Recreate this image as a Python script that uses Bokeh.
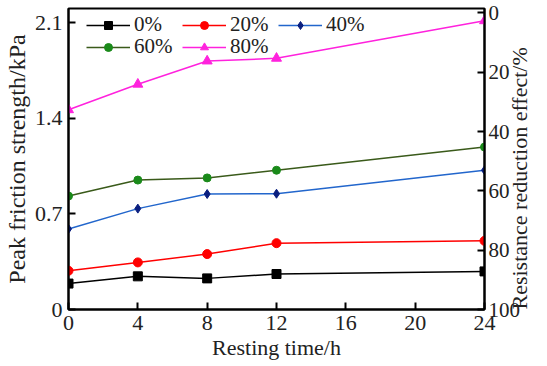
import math
from bokeh.plotting import figure
from bokeh.models import Range1d, LinearAxis, Legend, LegendItem, FixedTicker
from bokeh.embed import file_html
from bokeh.resources import INLINE

# Data
time_h = [0, 4, 8, 12, 24]
s0 = [0.19, 0.243, 0.228, 0.26, 0.279]
s20 = [0.284, 0.345, 0.406, 0.486, 0.503]
s40 = [0.59, 0.739, 0.846, 0.848, 1.02]
s60 = [0.831, 0.948, 0.964, 1.02, 1.19]
s80 = [1.463, 1.65, 1.82, 1.84, 2.115]
x_ticks = [0, 4, 8, 12, 16, 20, 24]
left_ticks = [0, 0.7, 1.4, 2.1]
right_ticks = [0, 20, 40, 60, 80, 100]

FONT = "Liberation Serif"
TXT = "#222222"

p = figure(width=547, height=366, output_backend="svg", toolbar_location=None,
           x_range=Range1d(0, 24), y_range=Range1d(0, 2.205),
           min_border_left=68, min_border_right=60, min_border_top=8, min_border_bottom=57)
p.extra_y_ranges = {"right": Range1d(start=100, end=-1.5)}
p.grid.visible = False
p.outline_line_color = "black"
p.outline_line_width = 2
p.background_fill_color = "white"
p.border_fill_color = "white"

r0 = p.line(time_h, s0, line_color="black", line_width=1.5)
m0 = p.scatter(time_h, s0, marker="square", size=9, color="black")
r20 = p.line(time_h, s20, line_color="#ff0000", line_width=1.5)
m20 = p.scatter(time_h, s20, marker="circle", size=9, color="#ff0000")
r40 = p.line(time_h, s40, line_color="#2266cc", line_width=1.5)
m40 = p.scatter(time_h, s40, marker="diamond", size=9, color="#0a1f80")
r60 = p.line(time_h, s60, line_color="#3a5a1a", line_width=1.5)
m60 = p.scatter(time_h, s60, marker="circle", size=8, color="#1a8a1a")
r80 = p.line(time_h, s80, line_color="#ff22dd", line_width=1.5)
m80 = p.scatter(time_h, s80, marker="triangle", size=10, color="#ff22dd")

def style_axis(ax, label_size="22px"):
    ax.axis_line_width = 2
    ax.axis_line_color = "black"
    ax.major_tick_in = 7
    ax.major_tick_out = 0
    ax.major_tick_line_width = 2
    ax.minor_tick_line_color = None
    ax.major_label_text_font = FONT
    ax.major_label_text_font_size = "22px"
    ax.major_label_text_color = TXT
    ax.axis_label_text_font = FONT
    ax.axis_label_text_font_size = label_size
    ax.axis_label_text_font_style = "normal"
    ax.axis_label_text_color = TXT
    ax.major_label_standoff = 6
    ax.axis_label_standoff = 2

xa = p.xaxis[0]
xa.ticker = FixedTicker(ticks=x_ticks)
xa.axis_label = "Resting time/h"
style_axis(xa, "22px")

ya = p.yaxis[0]
ya.ticker = FixedTicker(ticks=left_ticks)
ya.axis_label = "Peak friction strength/kPa"
style_axis(ya, "24px")

ra = LinearAxis(y_range_name="right", ticker=FixedTicker(ticks=right_ticks),
                axis_label="Resistance reduction effect/%")
style_axis(ra, "22px")
ra.major_label_text_font_size = "21px"
ra.major_label_standoff = 4
ra.axis_label_standoff = -4
ra.axis_label_orientation = math.pi / 2
ra.axis_label_align = "end"
p.add_layout(ra, "right")

def make_legend(items, y):
    lg = Legend(items=items, location=(18, y), orientation="horizontal")
    lg.label_text_font = FONT
    lg.label_text_font_size = "21px"
    lg.label_text_color = TXT
    lg.glyph_width = 44
    lg.glyph_height = 20
    lg.label_height = 22
    lg.label_width = 48
    lg.label_standoff = 4
    lg.spacing = 0
    lg.padding = 0
    lg.margin = 0
    lg.border_line_color = None
    lg.background_fill_alpha = 0
    return lg

leg1 = make_legend([
    LegendItem(label="0%", renderers=[r0, m0]),
    LegendItem(label="20%", renderers=[r20, m20]),
    LegendItem(label="40%", renderers=[r40, m40]),
], 272)
leg2 = make_legend([
    LegendItem(label="60%", renderers=[r60, m60]),
    LegendItem(label="80%", renderers=[r80, m80]),
], 250)
p.add_layout(leg1)
p.add_layout(leg2)

open("out.html", "w").write(file_html(p, INLINE))
